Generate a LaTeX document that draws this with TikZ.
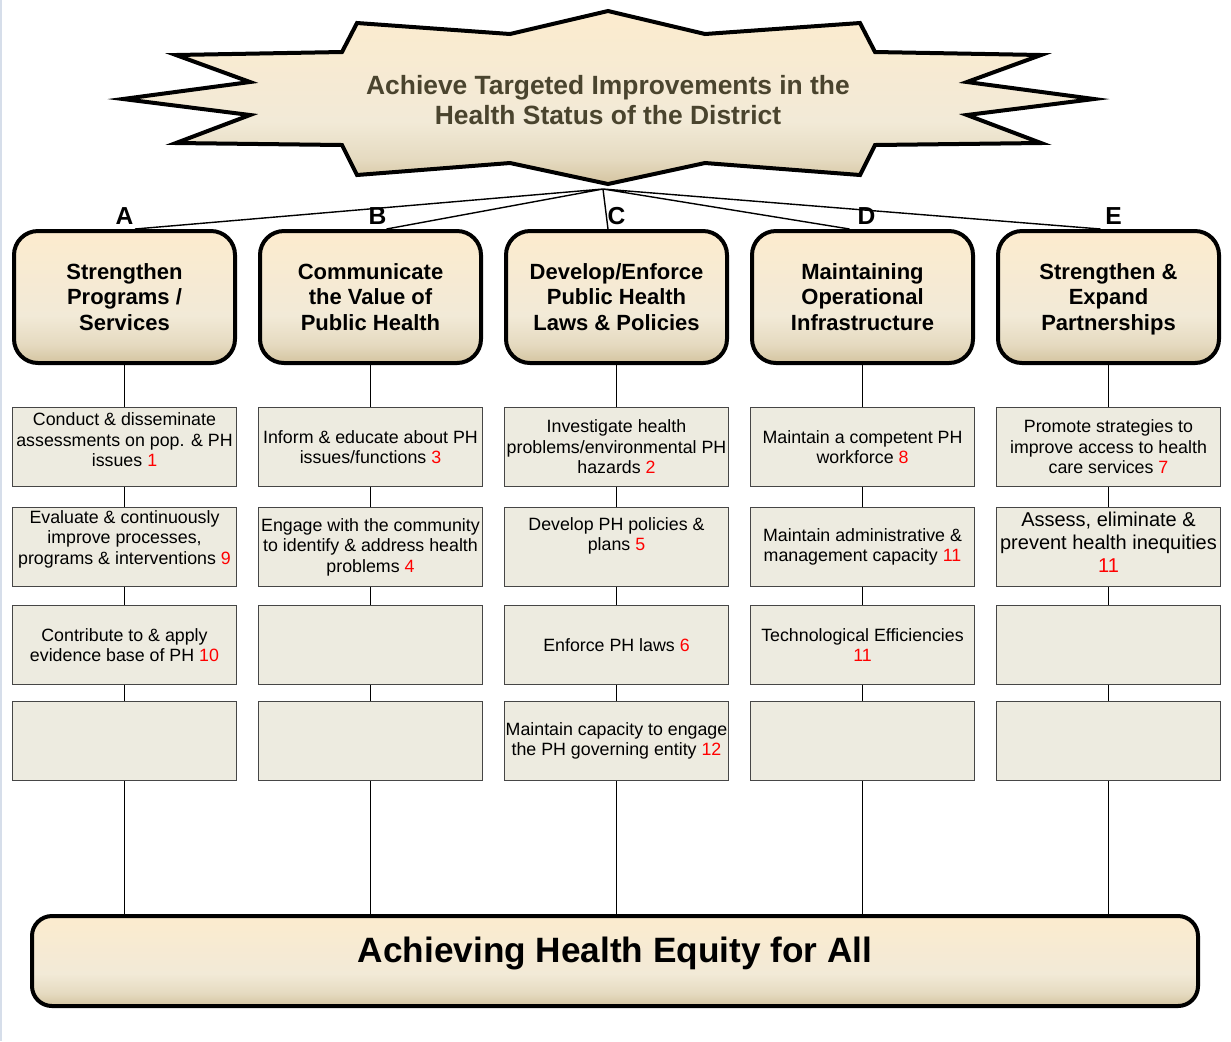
\documentclass[tikz,border=0pt]{standalone}
\usepackage{fontspec}
\setmainfont{Liberation Sans}
\usetikzlibrary{positioning}

\definecolor{hdtop}{RGB}{252,235,206}
\definecolor{hdmid}{RGB}{242,234,215}
\definecolor{hdlow}{RGB}{229,218,192}
\definecolor{hdbot}{RGB}{212,196,160}
\definecolor{cellfill}{RGB}{237,235,224}
\definecolor{celldraw}{RGB}{70,70,70}
\definecolor{goaltext}{RGB}{74,68,46}
\definecolor{numred}{RGB}{255,0,0}
\definecolor{edgeblue}{RGB}{214,222,234}

\pgfdeclareverticalshading{beige}{100bp}{color(0bp)=(hdbot); color(25bp)=(hdbot); color(32bp)=(hdlow); color(43bp)=(hdmid); color(75bp)=(hdtop); color(100bp)=(hdtop)}

\tikzset{
  head/.style={draw, line width=2pt, rounded corners=12pt, shading=beige,
    minimum width=110.5pt, minimum height=66pt, align=center,
    font=\bfseries\fontsize{11}{12.6}\selectfont},
  cell/.style={draw=celldraw, line width=0.6pt, fill=cellfill, minimum width=112pt,
    minimum height=39.5pt, inner sep=0pt, align=center,
    font=\fontsize{8.9}{10.25}\selectfont},
  txt/.style={inner sep=0pt, align=center, font=\fontsize{8.9}{10.25}\selectfont},
  lbl/.style={inner sep=0pt, font=\bfseries\fontsize{12.3}{14}\selectfont},
  goal/.style={align=center, text=goaltext, font=\bfseries\fontsize{13.2}{15}\selectfont},
  bar/.style={draw, line width=2pt, rounded corners=10pt, shading=beige,
    minimum width=583pt, minimum height=45pt,
    font=\bfseries\fontsize{17.6}{20}\selectfont},
  wire/.style={line width=0.7pt},
}
\newcommand{\nr}[1]{\textcolor{numred}{#1}}

\begin{document}
\begin{tikzpicture}[x=0.5pt, y=-0.5pt]
\useasboundingbox (0,0) rectangle (1231,1041);
\fill[edgeblue] (0,0) rectangle (2,1041);

% goal star
\draw[line width=2pt, shading=beige] (608,11) -- (705,34) -- (860,23) -- (875,52)
  -- (1041,55) -- (967,82) -- (1094,99) -- (967,115) -- (1041,143) -- (875,145)
  -- (860,175) -- (705,163) -- (608,184) -- (510,163) -- (357,175) -- (342,145)
  -- (176,143) -- (250,115) -- (123,99) -- (250,82) -- (176,55) -- (342,52)
  -- (357,23) -- (510,34) -- cycle;
\node[goal] (goal) at (608,100) {Achieve Targeted Improvements in the\\Health Status of the District};
\coordinate (apex) at (603,189);

% headers
\node[head] (hA) at (124.5,297) {Strengthen\\Programs /\\Services};
\node[head] (hB) [right=10.5pt of hA] {Communicate\\the Value of\\Public Health};
\node[head] (hC) [right=10.5pt of hB] {Develop/Enforce\\Public Health\\Laws \& Policies};
\node[head] (hD) [right=10.5pt of hC] {Maintaining\\Operational\\Infrastructure};
\node[head] (hE) [right=10.5pt of hD] {Strengthen \&\\Expand\\\raisebox{0pt}[\height][0pt]{Partnerships}};

\node[lbl] (lA) [above=2pt of hA] {A};
\node[lbl] (lB) [above=2pt of hB, xshift=3.5pt] {B};
\node[lbl] (lC) [above=2pt of hC] {C};
\node[lbl] (lD) [above=2pt of hD, xshift=2pt] {D};
\node[lbl] (lE) [above=2pt of hE, xshift=2.5pt] {E};

\draw[wire] (apex) -- ([xshift=5.25pt]hA.north)
  (apex) -- ([xshift=8pt]hB.north)
  (apex) -- ([xshift=-4.25pt]hC.north)
  (apex) -- ([xshift=-6.5pt]hD.north)
  (apex) -- ([xshift=-4pt]hE.north);

% column A
\node[cell, label={[txt, yshift=3.5pt]center:{Conduct \& disseminate\\assessments on pop. \& PH\\issues \nr{1}}}] (a1) [below=21pt of hA] {};
\node[cell, label={[txt, yshift=4pt]center:{Evaluate \& continuously\\improve processes,\\programs \& interventions \nr{9}}}] (a2) [below=9.9pt of a1] {};
\node[cell] (a3) [below=8.9pt of a2] {Contribute to \& apply\\evidence base of PH \nr{10}};
\node[cell] (a4) [below=7.9pt of a3] {};

% column B
\node[cell] (b1) [below=21pt of hB] {Inform \& educate about PH\\issues/functions \nr{3}};
\node[cell] (b2) [below=9.9pt of b1] {Engage with the community\\to identify \& address health\\problems \nr{4}};
\node[cell] (b3) [below=8.9pt of b2] {};
\node[cell] (b4) [below=7.9pt of b3] {};

% column C
\node[cell] (c1) [below=21pt of hC] {Investigate health\\problems/environmental PH\\hazards \nr{2}};
\node[cell, label={[txt, yshift=5.5pt]center:{Develop PH policies \&\\plans \nr{5}}}] (c2) [below=9.9pt of c1] {};
\node[cell] (c3) [below=8.9pt of c2] {Enforce PH laws \nr{6}};
\node[cell] (c4) [below=7.9pt of c3] {Maintain capacity to engage\\the PH governing entity \nr{12}};

% column D
\node[cell] (d1) [below=21pt of hD] {Maintain a competent PH\\workforce \nr{8}};
\node[cell] (d2) [below=9.9pt of d1] {Maintain administrative \&\\management capacity \nr{11}};
\node[cell] (d3) [below=8.9pt of d2] {Technological Efficiencies\\\nr{11}};
\node[cell] (d4) [below=7.9pt of d3] {};

% column E
\node[cell] (e1) [below=21pt of hE] {Promote strategies to\\improve access to health\\care services \nr{7}};
\node[cell, label={[txt, yshift=2.5pt, font=\fontsize{10}{11.5}\selectfont]center:{Assess, eliminate \&\\prevent health inequities\\\nr{11}}}] (e2) [below=9.9pt of e1] {};
\node[cell] (e3) [below=8.9pt of e2] {};
\node[cell] (e4) [below=7.9pt of e3] {};

% bottom
\node[bar] (bar) at (615,961) {\raisebox{4pt}[\height][\depth]{Achieving Health Equity for All}};

\draw[wire] (hA) -- (a1) -- (a2) -- (a3) -- (a4) -- (a4 |- bar.north);
\draw[wire] (hB) -- (b1) -- (b2) -- (b3) -- (b4) -- (b4 |- bar.north);
\draw[wire] (hC) -- (c1) -- (c2) -- (c3) -- (c4) -- (c4 |- bar.north);
\draw[wire] (hD) -- (d1) -- (d2) -- (d3) -- (d4) -- (d4 |- bar.north);
\draw[wire] (hE) -- (e1) -- (e2) -- (e3) -- (e4) -- (e4 |- bar.north);
\end{tikzpicture}
\end{document}
